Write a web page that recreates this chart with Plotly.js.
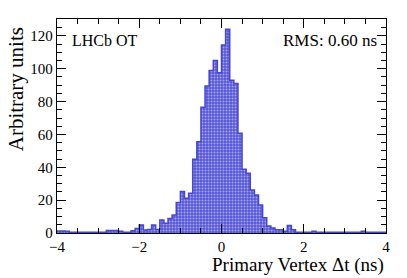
<!DOCTYPE html>
<html><head><meta charset="utf-8">
<script src="https://cdn.plot.ly/plotly-3.0.1.min.js"></script>
<style>html,body{margin:0;padding:0;background:#fff}</style>
</head><body><div id="c" style="width:407px;height:278px"></div>
<script>
// bin edges: -4 .. 4 in 0.1 ns steps (80 bins)
var binLow = -4.0, binWidth = 0.1;
var counts = [
 1.2, 1.2, 1.0, 0.5, 0.5, 0.5, 0.5, 0.5, 0.5, 0.5,   // -4.0 .. -3.1
 0.5, 0.5, 1.5, 1.5, 1.5, 1.0, 0.5, 0.5, 1.4, 2.8,   // -3.0 .. -2.1
 4.9, 1.8, 2.2, 4.9, 2.2, 7.9, 5.9, 8.9, 11, 18.5,   // -2.0 .. -1.1
 25.2, 21.1, 24.2, 44.9, 55.6, 76.6, 89.5, 99, 105, 97.6, // -1.0 .. -0.1
 114.5, 124, 93, 91, 60.7, 38.8, 36.4, 26.2, 23.1, 17,   // 0.0 .. 0.9
 9.3, 4.3, 3, 2, 2, 1, 4.5, 2, 0.5, 0.5,                 // 1.0 .. 1.9
 0.5, 0.5, 1, 0.5, 0.5, 0.5, 0.5, 0.5, 0.5, 0.5,         // 2.0 .. 2.9
 0.5, 0.5, 0.5, 0.5, 1, 0.5, 0.5, 0.5, 0.5, 0.5          // 3.0 .. 3.9
];
var xTickVals = [-4, -2, 0, 2, 4];
var xTickText = ['\u22124', '\u22122', '0', '2', '4'];
var yTickVals = [0, 20, 40, 60, 80, 100, 120];
var xTitle = 'Primary Vertex \u0394t (ns)';
var yTitle = 'Arbitrary units';
var labelLeft = 'LHCb OT';
var labelRight = 'RMS: 0.60 ns';

var centers = counts.map(function(_, i){ return +(binLow + (i + 0.5) * binWidth).toFixed(3); });
var edges = counts.map(function(_, i){ return +(binLow + i * binWidth).toFixed(3); });
edges.push(+(binLow + counts.length * binWidth).toFixed(3));
var stepY = counts.concat([counts[counts.length - 1]]);

var blue = '#4646d2';
var traces = [
 {type:'bar', x:centers, y:counts, width:binWidth,
  marker:{color:'#5a5ad8', line:{width:0},
   pattern:{shape:'.', bgcolor:'#5656d8', fgcolor:'#a8a8f2', size:3, solidity:0.35, fillmode:'replace'}},
  hoverinfo:'skip'},
 {type:'scatter', mode:'lines', x:edges, y:stepY,
  line:{shape:'hv', color:blue, width:1.5}, hoverinfo:'skip'}
];
var font = 'Liberation Serif, Times New Roman, serif';
var layout = {
 width:407, height:278, showlegend:false, bargap:0,
 margin:{l:57, r:21, t:19, b:45},
 paper_bgcolor:'#fff', plot_bgcolor:'#fff',
 font:{family:font, size:15, color:'#000'},
 xaxis:{range:[-4,4], tickvals:xTickVals, ticktext:xTickText, ticks:'inside', ticklen:9, tickwidth:1,
   tickcolor:'#000', mirror:'allticks', showline:true, linecolor:'#000', linewidth:1.2,
   showgrid:false, zeroline:false, tickfont:{family:font, size:15},
   minor:{dtick:0.5, ticks:'inside', ticklen:5, tickcolor:'#000', showgrid:false}},
 yaxis:{range:[0,130.3], tickvals:yTickVals, ticks:'inside', ticklen:9, tickwidth:1,
   tickcolor:'#000', mirror:'allticks', showline:true, linecolor:'#000', linewidth:1.2,
   showgrid:false, zeroline:false, tickfont:{family:font, size:15},
   minor:{dtick:5, ticks:'inside', ticklen:5, tickcolor:'#000', showgrid:false}},
 annotations:[
  {text:labelLeft, xref:'paper', yref:'paper', x:0.04, y:0.9, xanchor:'left', yanchor:'middle',
   showarrow:false, font:{family:font, size:16}},
  {text:labelRight, xref:'paper', yref:'paper', x:0.98, y:0.9, xanchor:'right', yanchor:'middle',
   showarrow:false, font:{family:font, size:17}},
  {text:xTitle, xref:'paper', yref:'paper', x:1.0, y:-0.15, xanchor:'right', yanchor:'middle',
   showarrow:false, font:{family:font, size:19}},
  {text:yTitle, textangle:-90, xref:'paper', yref:'paper', x:-0.122, y:0.97, xanchor:'center', yanchor:'top',
   showarrow:false, font:{family:font, size:21}}
 ]
};
Plotly.newPlot('c', traces, layout, {staticPlot:true, displayModeBar:false});
</script></body></html>
